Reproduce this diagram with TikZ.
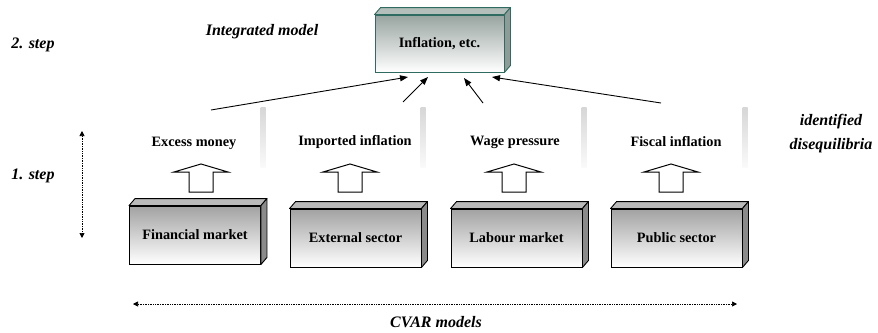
\documentclass[tikz,border=0pt]{standalone}
\usepackage{fontspec}
\setmainfont{Liberation Serif}
\usetikzlibrary{arrows.meta}

\definecolor{edgeteal}{HTML}{2F6B60}
\definecolor{tealtop}{HTML}{98A4A0}
\definecolor{tealface}{HTML}{B4BEBA}
\definecolor{tealside}{HTML}{8E9B97}
\definecolor{greytop}{HTML}{A2A2A2}
\definecolor{greyface}{HTML}{BABABA}
\definecolor{greyside}{HTML}{8A8A8A}

% side and top faces of a 3D block behind a front node
\newcommand\blockfaces[4]{%
  \draw[fill=#2, draw=#4, line width=0.9pt, line join=round]
    (#1.north west) -- ++(6,-7) -- ([shift={(6,-7)}]#1.north east) -- (#1.north east) -- cycle;
  \draw[fill=#3, draw=#4, line width=0.9pt, line join=round]
    (#1.north east) -- ++(6,-7) -- ([shift={(6,-7)}]#1.south east) -- (#1.south east) -- cycle;
}
% outlined block arrow pointing up, centred on x
\newcommand\hollowup[1]{%
  \draw[line width=1pt, fill=white, line join=miter]
    (#1-12,192) -- (#1-12,172) -- (#1-27,172) -- (#1,164) -- (#1+27,172)
    -- (#1+12,172) -- (#1+12,192) -- cycle;
}
% shaded separator bar
\newcommand\sepbar[1]{%
  \shade[top color=gray!32, bottom color=gray!4] (#1-2.5,107) rectangle (#1+2.5,167);
}

\begin{document}
\begin{tikzpicture}[x=1pt, y=-1pt,
  front/.style={draw=black, line width=0.9pt, top color=greytop, bottom color=white,
    minimum width=131pt, minimum height=58pt, inner sep=0pt,
    font=\fontsize{14.3}{16}\selectfont\bfseries},
  topfront/.style={draw=edgeteal, line width=0.9pt, top color=tealtop, bottom color=white,
    minimum width=129pt, minimum height=57pt, inner sep=0pt,
    font=\fontsize{14.3}{16}\selectfont\bfseries},
  lbl/.style={inner sep=0pt, font=\fontsize{14.3}{16}\selectfont\bfseries},
  note/.style={inner sep=0pt, font=\fontsize{16}{18}\selectfont\bfseries\itshape},
  conn/.style={line width=0.9pt, -{Triangle[length=8pt, width=6pt]}},
  span/.style={line width=0.7pt, densely dotted,
    {Triangle[length=5pt, width=5pt]}-{Triangle[length=5pt, width=5pt]}}
]
\useasboundingbox (0,0) rectangle (878,332);

% integrated model at the top
\node[topfront] (infl) at (439.5,43.5) {Inflation, etc.};
\blockfaces{infl}{tealface}{tealside}{edgeteal}

% sector models
\node[front] (fin) at (195,235) {Financial market};
\node[front] (ext) at (355.5,238) {External sector};
\node[front] (lab) at (516.5,238) {Labour market};
\node[front] (pub) at (676.5,238) {Public sector};
\foreach \b in {fin,ext,lab,pub}{\blockfaces{\b}{greyface}{greyside}{black}}

% separators
\sepbar{263}
\sepbar{423}
\sepbar{584}
\sepbar{745}

% disequilibria
\node[lbl] (em) at (194,143) {Excess money};
\node[lbl] (ii) at (355,142) {Imported inflation};
\node[lbl] (wp) at (515,142) {Wage pressure};
\node[lbl] (fi) at (676,142) {Fiscal inflation};

\hollowup{201}
\hollowup{350}
\hollowup{514}
\hollowup{671}

% links into the integrated model
\coordinate (s1) at (211,110); \coordinate (t1) at (408,77);
\coordinate (s2) at (403,102); \coordinate (t2) at (428,77);
\coordinate (s3) at (483,103); \coordinate (t3) at (464,78);
\coordinate (s4) at (661,103); \coordinate (t4) at (492,77);
\draw[conn] (s1) -- (t1);
\draw[conn] (s2) -- (t2);
\draw[conn] (s3) -- (t3);
\draw[conn] (s4) -- (t4);

% side annotations
\node[note] (st2) at (33,45) {2. step};
\node[note] (im) at (262,32) {Integrated model};
\node[note] (st1) at (33,176) {1. step};
\node[note] (id1) at (831,122) {identified};
\node[note] (id2) at (831,146) {disequilibria};
\node[note] (cv) at (436,322) {CVAR models};

\coordinate (v1) at (82,131); \coordinate (v2) at (82,238);
\draw[span] (v1) -- (v2);
\coordinate (h1) at (133,304); \coordinate (h2) at (737,304);
\draw[span] (h1) -- (h2);
\end{tikzpicture}
\end{document}
